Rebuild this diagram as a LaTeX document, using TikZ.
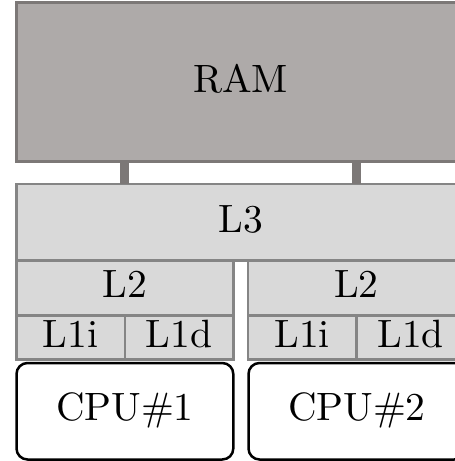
\documentclass[tikz,border=0pt]{standalone}
\definecolor{ramfill}{RGB}{174,170,169}
\definecolor{ramline}{RGB}{124,120,119}
\definecolor{cachefill}{RGB}{217,217,217}
\definecolor{cacheline}{RGB}{133,133,133}
\newcommand{\bigtxt}[1]{\scalebox{3.95}{#1}}
\begin{document}
\begin{tikzpicture}[x=1pt,y=-1pt,
  every node/.style={inner sep=0pt, outer sep=0pt, rectangle, anchor=north west,
    font=\fontsize{10}{12}\selectfont, text depth=7pt},
  rambox/.style={draw=ramline, fill=ramfill, line width=3pt},
  cachebox/.style={draw=cacheline, fill=cachefill, line width=2.5pt},
  cpubox/.style={draw=black, line width=2.5pt, rounded corners=11pt},
  bus/.style={draw=ramline, line width=9pt}]
\useasboundingbox (0,0) rectangle (455,461);
\clip (0,0) rectangle (455,461);
% RAM
\node[rambox, minimum width=448.3pt, minimum height=159pt] (ram) at (16.5,2.5) {\bigtxt{RAM}};
% L3
\node[cachebox, minimum width=448.3pt, minimum height=76.5pt] (l3) at (16.5,184) {\bigtxt{L3}};
% left core
\node[cachebox, minimum width=216.8pt, minimum height=55pt] (l2a) at (16.5,260.5) {\bigtxt{L2}};
\node[cachebox, minimum width=108.4pt, minimum height=44pt] (l1ia) at (16.5,315.5) {\bigtxt{L1i}};
\node[cachebox, minimum width=108.4pt, minimum height=44pt] (l1da) at (124.9,315.5) {\bigtxt{L1d}};
\node[cpubox, minimum width=216.8pt, minimum height=96.5pt, text depth=9pt] (cpua) at (16.5,363) {\bigtxt{CPU\#1}};
% right core
\node[cachebox, minimum width=216.8pt, minimum height=55pt] (l2b) at (248,260.5) {\bigtxt{L2}};
\node[cachebox, minimum width=108.4pt, minimum height=44pt] (l1ib) at (248,315.5) {\bigtxt{L1i}};
\node[cachebox, minimum width=108.4pt, minimum height=44pt] (l1db) at (356.4,315.5) {\bigtxt{L1d}};
\node[cpubox, minimum width=216.8pt, minimum height=96.5pt, text depth=9pt] (cpub) at (248.5,363) {\bigtxt{CPU\#2}};
% buses
\draw[bus] (ram.south -| l1da.north west) -- (l3.north -| l1da.north west);
\draw[bus] (ram.south -| l1db.north west) -- (l3.north -| l1db.north west);
\end{tikzpicture}
\end{document}
